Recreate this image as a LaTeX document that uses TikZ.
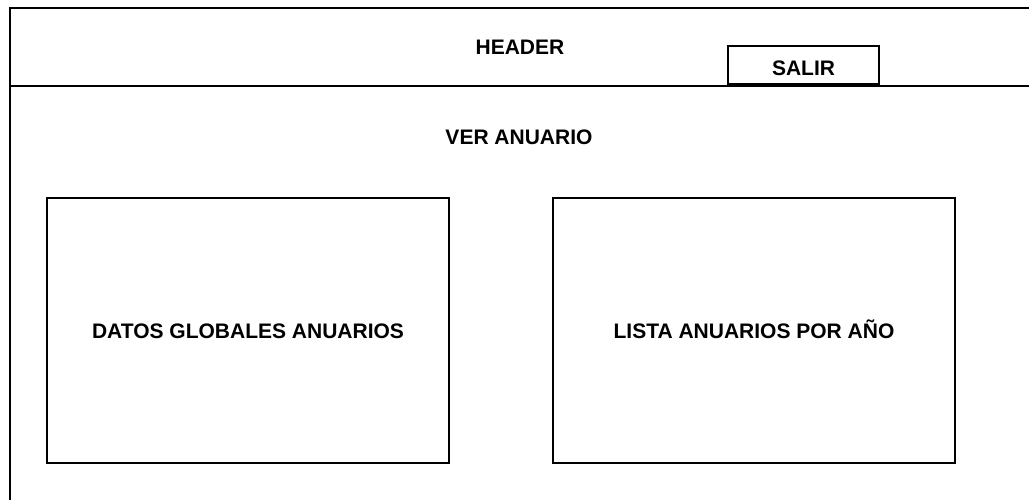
\documentclass[tikz,border=0pt]{standalone}
\usepackage{fontspec}
\setmainfont{Liberation Sans}
\usetikzlibrary{positioning}
\tikzstyle{frame} = [draw, line width=2pt]
\tikzstyle{block} = [rectangle, draw, line width=1.5pt, text centered, minimum width=402pt, minimum height=265pt, inner sep=0pt, text height=15.3pt, text depth=0pt, font=\fontsize{21}{25}\selectfont\bfseries]
\tikzstyle{button} = [rectangle, draw, line width=1.5pt, minimum width=151pt, minimum height=38pt, inner sep=0pt]
\tikzstyle{title} = [anchor=base, inner sep=0pt, font=\fontsize{21}{25}\selectfont\bfseries]

\begin{document}
\begin{tikzpicture}[x=1pt, y=-1pt]
\useasboundingbox (0,0) rectangle (1029,500);
% page frame and header bar
\draw [frame] (10,500) -- (10,8) -- (1029,8);
\draw [frame] (10,86) -- (1029,86);
\node [title] (header) at (520,55) {HEADER};
\node [button] (salir) at (803.5,65) {};
\node [title] (salirtext) at (803.5,76) {SALIR};
% content
\node [title] (veranuario) at (519,145) {VER ANUARIO};
\node [block] (datos) at (248,330.5) {DATOS GLOBALES ANUARIOS};
\node [block, right=102.5pt of datos] (lista) {LISTA ANUARIOS POR AÑO};
\end{tikzpicture}
\end{document}
